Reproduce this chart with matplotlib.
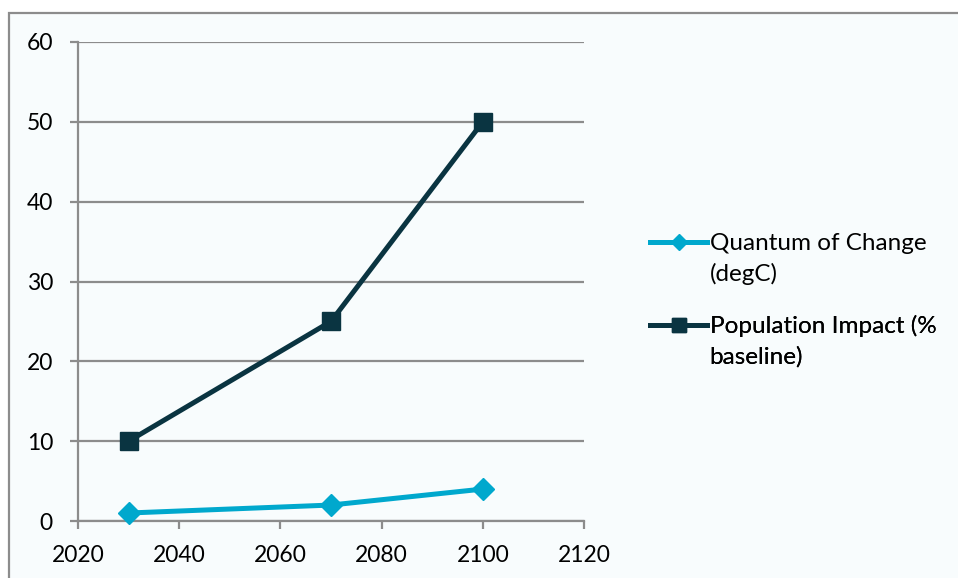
import matplotlib.pyplot as plt
from matplotlib.patches import Rectangle
from matplotlib.lines import Line2D

years = [2030, 2070, 2100]
quantum = [1, 2, 4]
population = [10, 25, 50]
xticks = [2020, 2040, 2060, 2080, 2100, 2120]
yticks = [0, 10, 20, 30, 40, 50, 60]
labels = [('Quantum of Change', '(degC)'), ('Population Impact (%', 'baseline)')]

c_quant = '#00a8cd'
c_pop = '#0a3441'

W, H = 958, 578
fig = plt.figure(figsize=(W / 100, H / 100), dpi=100, facecolor='white')
plt.rcParams['font.family'] = ['Lato', 'DejaVu Sans']

# chart frame, running off the right and bottom edges
fig.patches.append(Rectangle((9 / W, -0.02), 1.1, 1.02 - 13 / H, transform=fig.transFigure,
                             facecolor='#f8fcfd', edgecolor='#8c8c8c', lw=1.6, zorder=-5))

ax = fig.add_axes([78 / W, 1 - 521 / H, (584 - 78) / W, (521 - 42) / H])
ax.set_facecolor('none')

ax.plot(years, quantum, color=c_quant, lw=3.6, marker='D', ms=11, clip_on=False, zorder=3)
ax.plot(years, population, color=c_pop, lw=3.6, marker='s', ms=12.5, clip_on=False, zorder=3)

ax.set_xlim(2020, 2120)
ax.set_ylim(0, 60)
ax.set_xticks(xticks)
ax.set_yticks(yticks)
ax.grid(axis='y', color='#8c8c8c', lw=1.6)
ax.set_axisbelow(True)
for s in ['top', 'right']:
    ax.spines[s].set_visible(False)
for s in ['left', 'bottom']:
    ax.spines[s].set_color('#8c8c8c')
    ax.spines[s].set_linewidth(1.6)
ax.tick_params(axis='both', colors='#8c8c8c', width=1.6, length=6, labelcolor='black',
               labelsize=16.5)
ax.tick_params(axis='x', pad=11)
ax.tick_params(axis='y', pad=12)

# legend: handle sits beside the first line of each wrapped label
blank = Line2D([], [], lw=0, marker=None)
handles = [Line2D([], [], color=c_quant, lw=3.6, marker='D', ms=8),
           Line2D([], [], color=c_pop, lw=3.6, marker='s', ms=9.5)]
tops = [233, 315]
for h, (l1, l2), top in zip(handles, labels, tops):
    leg = ax.legend([h, blank], [l1, l2], loc='upper left',
                    bbox_to_anchor=(650 / W, 1 - top / H), bbox_transform=fig.transFigure,
                    frameon=False, fontsize=17.5, handlelength=2.35, handletextpad=0.1,
                    labelspacing=0.35, borderpad=0, borderaxespad=0)
    ax.add_artist(leg)

fig.savefig('out.png', dpi=100, facecolor='white')
